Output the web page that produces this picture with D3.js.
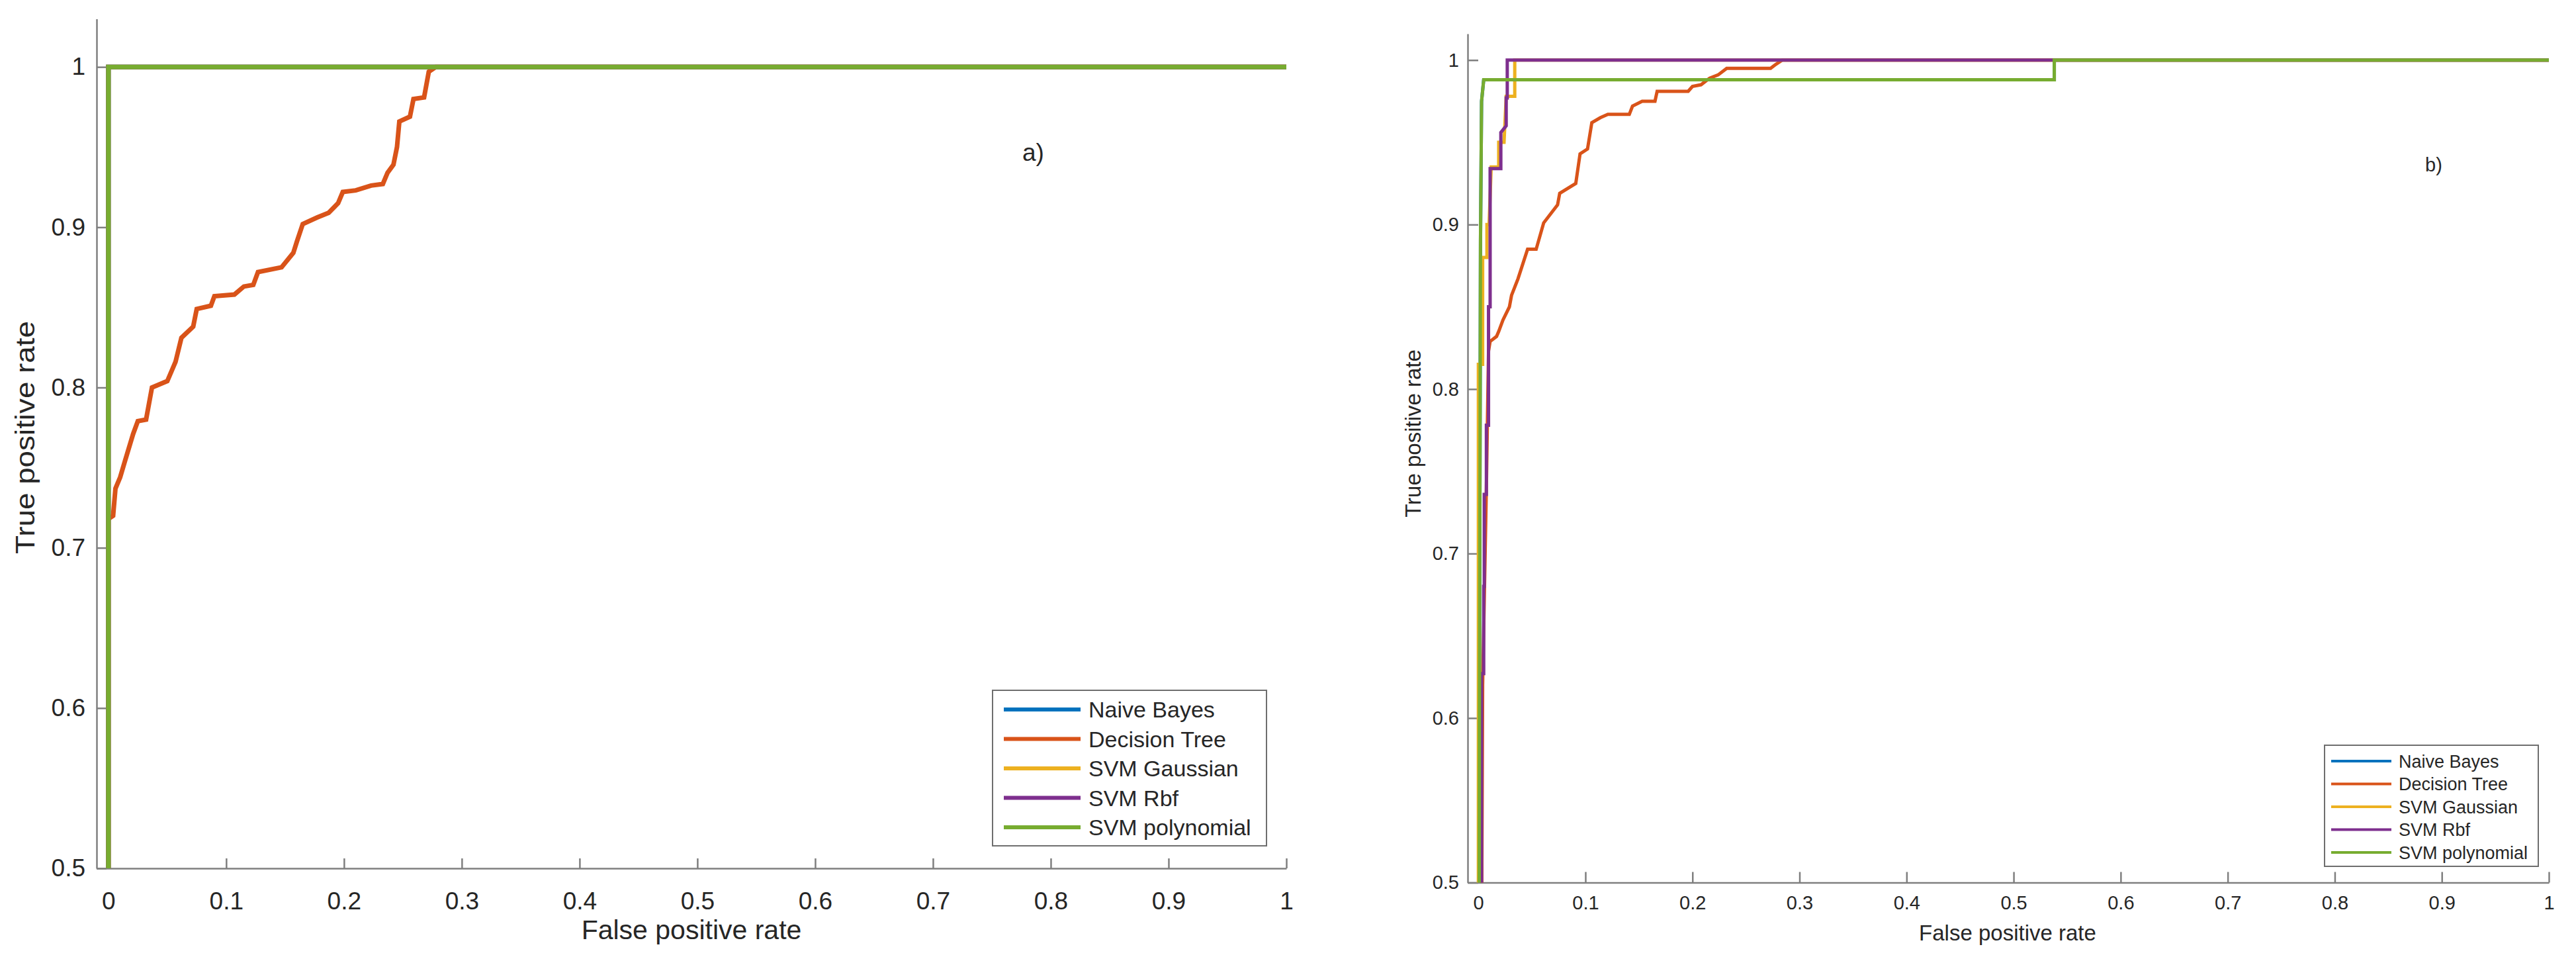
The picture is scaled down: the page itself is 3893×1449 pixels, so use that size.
<!DOCTYPE html>
<html>
<head>
<meta charset="utf-8">
<script src="https://cdn.jsdelivr.net/npm/d3@7"></script>
<style>
  html, body { margin: 0; padding: 0; background: #ffffff; }
  svg { display: block; }
  text { font-family: "Liberation Sans", Arial, Helvetica, sans-serif; fill: #262626; }
</style>
</head>
<body>
<svg id="chart" width="3893" height="1449"></svg>
<script>
// ---------------- DATA ----------------
const seriesNames = ["Naive Bayes", "Decision Tree", "SVM Gaussian", "SVM Rbf", "SVM polynomial"];
const fprTicks = [0, 0.1, 0.2, 0.3, 0.4, 0.5, 0.6, 0.7, 0.8, 0.9, 1];
const tprTicks = [0.5, 0.6, 0.7, 0.8, 0.9, 1];
const fprTickLabels = ["0", "0.1", "0.2", "0.3", "0.4", "0.5", "0.6", "0.7", "0.8", "0.9", "1"];
const tprTickLabels = ["0.5", "0.6", "0.7", "0.8", "0.9", "1"];
const panelLabels = ["a)", "b)"];
const xTitle = "False positive rate";
const yTitle = "True positive rate";

// panel a) ROC points [FPR, TPR]
const aNaiveBayes = [[0, 0], [0, 1], [1, 1]];
const aDecisionTree = [[0, 0], [0, 0.718], [0.004, 0.72], [0.006, 0.737], [0.010, 0.744], [0.014, 0.754],
  [0.021, 0.771], [0.025, 0.779], [0.032, 0.780], [0.037, 0.800], [0.050, 0.804], [0.057, 0.816],
  [0.062, 0.831], [0.072, 0.838], [0.075, 0.849], [0.087, 0.851], [0.090, 0.857], [0.107, 0.858],
  [0.115, 0.863], [0.123, 0.864], [0.127, 0.872], [0.147, 0.875], [0.157, 0.884], [0.160, 0.891],
  [0.165, 0.902], [0.177, 0.906], [0.187, 0.909], [0.195, 0.915], [0.199, 0.922], [0.210, 0.923],
  [0.223, 0.926], [0.233, 0.927], [0.237, 0.934], [0.242, 0.939], [0.245, 0.950], [0.247, 0.966],
  [0.256, 0.969], [0.259, 0.980], [0.268, 0.981], [0.272, 0.997], [0.278, 1.0], [1, 1]];
const aSvmGaussian = [[0, 0], [0, 1], [1, 1]];
const aSvmRbf = [[0, 0], [0, 1], [1, 1]];
const aSvmPolynomial = [[0, 0], [0, 1], [1, 1]];

// panel b) ROC points [FPR, TPR]
const bNaiveBayes = [[0, 0], [0.001, 0.6], [0.002, 0.89], [0.003, 0.975], [0.005, 0.988], [0.538, 0.988], [0.538, 1], [1, 1]];
const bDecisionTree = [[0, 0], [0.004, 0.62], [0.0075, 0.74], [0.0095, 0.823], [0.011, 0.829], [0.017, 0.832],
  [0.019, 0.835], [0.023, 0.842], [0.029, 0.850], [0.031, 0.857], [0.037, 0.867], [0.046, 0.885],
  [0.054, 0.885], [0.061, 0.901], [0.074, 0.912], [0.076, 0.919], [0.091, 0.925], [0.095, 0.943],
  [0.102, 0.946], [0.106, 0.962], [0.114, 0.965], [0.121, 0.967], [0.141, 0.967], [0.144, 0.972],
  [0.153, 0.975], [0.165, 0.975], [0.167, 0.981], [0.196, 0.981], [0.200, 0.984], [0.208, 0.985],
  [0.216, 0.989], [0.224, 0.991], [0.232, 0.995], [0.273, 0.995], [0.277, 0.997], [0.284, 1], [1, 1]];
const bSvmGaussian = [[0, 0], [0, 0.815], [0.004, 0.815], [0.004, 0.88], [0.008, 0.88], [0.008, 0.9],
  [0.010, 0.9], [0.012, 0.935], [0.019, 0.935], [0.019, 0.95], [0.024, 0.95], [0.026, 0.978],
  [0.034, 0.978], [0.034, 1], [1, 1]];
const bSvmRbf = [[0, 0], [0.003, 0.5], [0.003, 0.627], [0.005, 0.627], [0.005, 0.68], [0.0055, 0.68],
  [0.0055, 0.736], [0.0075, 0.736], [0.0075, 0.778], [0.0095, 0.778], [0.0095, 0.85], [0.011, 0.85],
  [0.011, 0.934], [0.021, 0.934], [0.021, 0.956], [0.026, 0.960], [0.026, 0.977], [0.027, 0.977],
  [0.027, 1], [1, 1]];
const bSvmPolynomial = [[0, 0], [0.001, 0.6], [0.002, 0.89], [0.003, 0.975], [0.005, 0.988], [0.538, 0.988], [0.538, 1], [1, 1]];

// ---------------- STYLE / LAYOUT ----------------
const seriesColors = ["#0072BD", "#D95319", "#EDB120", "#7E2F8E", "#77AC30"];
const axisColor = "#7f7f7f";

const panels = [
  {
    series: [aNaiveBayes, aDecisionTree, aSvmGaussian, aSvmRbf, aSvmPolynomial],
    xDomain: [-0.01, 1], xRange: [146, 1944],
    yDomain: [0.5, 1.03], yRange: [1312, 28.5],
    lineWidth: 7, tickFont: 37, tickLen: 15, xPad: 36, yPad: 17,
    xTitle: { x: 1045, y: 1419, size: 41, len: 0 },
    yTitle: { x: 52, y: 661, size: 40, len: 352 },
    label: { x: 1545, y: 243, size: 37 },
    legend: { x0: 1500, y0: 1043, x1: 1914, y1: 1278, rowY0: 1072, rowStep: 44.5,
              sx0: 1517, sx1: 1633, tx: 1645, font: 34, lw: 6 }
  },
  {
    series: [bNaiveBayes, bDecisionTree, bSvmGaussian, bSvmRbf, bSvmPolynomial],
    xDomain: [-0.01, 1], xRange: [2218, 3852],
    yDomain: [0.5, 1.016], yRange: [1333.5, 51],
    lineWidth: 5, tickFont: 29, tickLen: 16, xPad: 20, yPad: 13,
    xTitle: { x: 3034, y: 1421, size: 33, len: 0 },
    yTitle: { x: 2147, y: 655, size: 33, len: 0 },
    label: { x: 3665, y: 259, size: 29 },
    legend: { x0: 3513, y0: 1126, x1: 3836, y1: 1309, rowY0: 1150, rowStep: 34.5,
              sx0: 3523, sx1: 3614, tx: 3625, font: 27, lw: 4 }
  }
];

const svg = d3.select("#chart");
svg.append("rect").attr("width", 3893).attr("height", 1449).attr("fill", "#ffffff");

panels.forEach((p, pi) => {
  const x = d3.scaleLinear().domain(p.xDomain).range(p.xRange);
  const y = d3.scaleLinear().domain(p.yDomain).range(p.yRange);
  const g = svg.append("g");

  const clipId = "clip" + pi;
  svg.append("defs").append("clipPath").attr("id", clipId)
    .append("rect")
    .attr("x", p.xRange[0]).attr("y", p.yRange[1])
    .attr("width", p.xRange[1] - p.xRange[0] + p.lineWidth)
    .attr("height", p.yRange[0] - p.yRange[1]);

  // axes
  const xAxis = d3.axisBottom(x).tickValues(fprTicks)
    .tickFormat((d, i) => fprTickLabels[i])
    .tickSizeInner(-p.tickLen).tickSizeOuter(0).tickPadding(p.xPad);
  const yAxis = d3.axisLeft(y).tickValues(tprTicks)
    .tickFormat((d, i) => tprTickLabels[i])
    .tickSizeInner(-p.tickLen).tickSizeOuter(0).tickPadding(p.yPad);

  const gx = g.append("g").attr("transform", `translate(0,${p.yRange[0]})`).call(xAxis);
  const gy = g.append("g").attr("transform", `translate(${p.xRange[0]},0)`).call(yAxis);
  [gx, gy].forEach(a => {
    a.select(".domain").attr("stroke", axisColor).attr("stroke-width", 2.5);
    a.selectAll(".tick line").attr("stroke", axisColor).attr("stroke-width", 2.5);
    a.selectAll(".tick text").attr("font-size", p.tickFont)
      .attr("font-family", "'Liberation Sans', Arial, sans-serif").attr("fill", "#262626");
  });

  // lines
  const line = d3.line().x(d => x(d[0])).y(d => y(d[1]));
  const lg = g.append("g").attr("clip-path", `url(#${clipId})`);
  p.series.forEach((s, si) => {
    lg.append("path").datum(s)
      .attr("d", line)
      .attr("fill", "none")
      .attr("stroke", seriesColors[si])
      .attr("stroke-width", p.lineWidth)
      .attr("stroke-linejoin", "miter")
      .attr("stroke-linecap", "butt");
  });

  // titles
  g.append("text").attr("x", p.xTitle.x).attr("y", p.xTitle.y)
    .attr("text-anchor", "middle").attr("font-size", p.xTitle.size).text(xTitle);
  const yt = g.append("text").attr("transform", `translate(${p.yTitle.x},${p.yTitle.y}) rotate(-90)`)
    .attr("text-anchor", "middle").attr("font-size", p.yTitle.size).text(yTitle);
  if (p.yTitle.len) yt.attr("textLength", p.yTitle.len).attr("lengthAdjust", "spacingAndGlyphs");
  g.append("text").attr("x", p.label.x).attr("y", p.label.y)
    .attr("font-size", p.label.size).text(panelLabels[pi]);

  // legend
  const L = p.legend;
  const leg = g.append("g");
  leg.append("rect").attr("x", L.x0).attr("y", L.y0)
    .attr("width", L.x1 - L.x0).attr("height", L.y1 - L.y0)
    .attr("fill", "#ffffff").attr("stroke", "#6e6e6e").attr("stroke-width", 2);
  seriesNames.forEach((name, i) => {
    const ry = L.rowY0 + i * L.rowStep;
    leg.append("line").attr("x1", L.sx0).attr("x2", L.sx1).attr("y1", ry).attr("y2", ry)
      .attr("stroke", seriesColors[i]).attr("stroke-width", L.lw);
    leg.append("text").attr("x", L.tx).attr("y", ry).attr("dy", "0.36em")
      .attr("font-size", L.font).text(name);
  });
});
</script>
</body>
</html>
